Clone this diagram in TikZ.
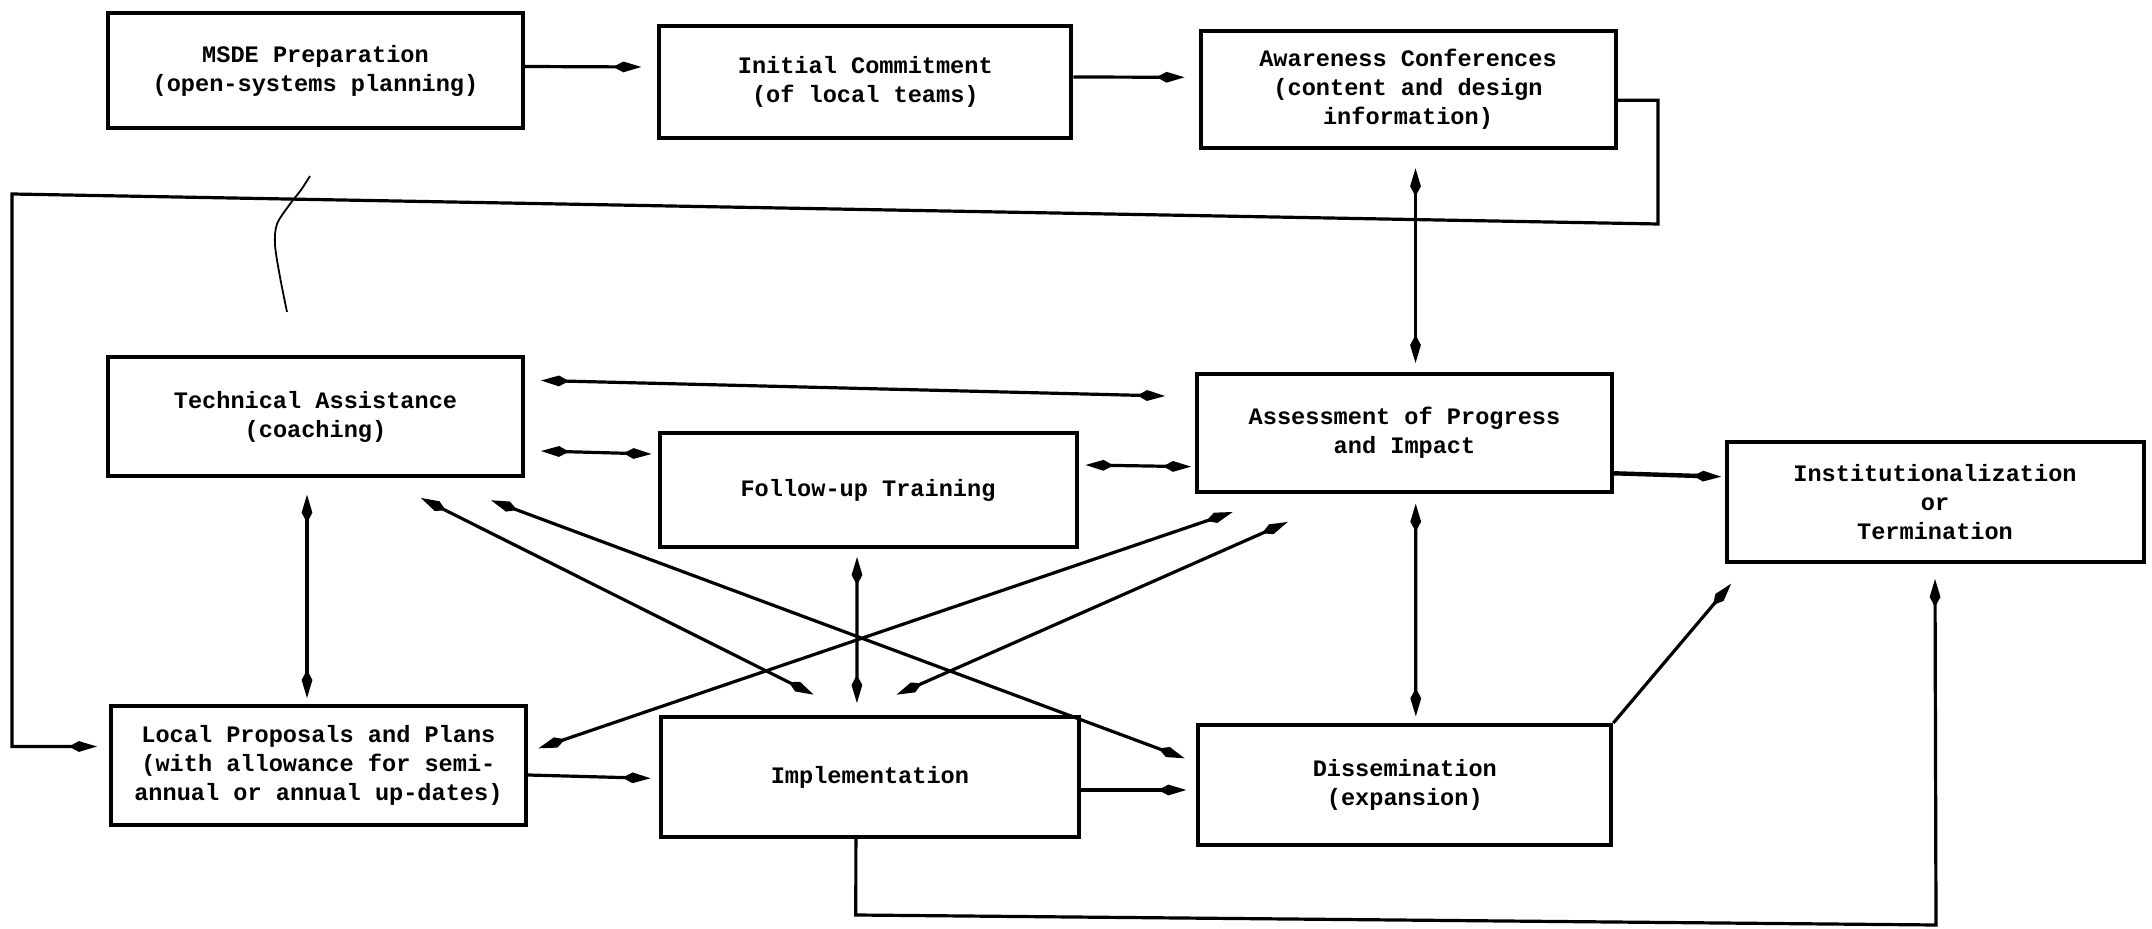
\documentclass[tikz,border=0pt]{standalone}
\usepackage{fontspec}
\newfontfamily\twfont{Liberation Mono}
\usetikzlibrary{arrows.meta,calc}
\newcommand\boxfont{\twfont\bfseries\fontsize{11.8}{14.5}\selectfont}
\tikzset{
  box/.style={draw, line width=2pt, minimum width=207.5pt, minimum height=59pt,
    inner sep=0pt, align=center, font=\boxfont},
  kt/.tip={Kite[length=14pt,width=5.4pt,inset=5pt]},
  conn/.style={line width=1.6pt},
  ar/.style={conn,-kt},
  dar/.style={conn,kt-kt},
  squig/.style={line width=0.9pt}
}
\begin{document}
\begin{tikzpicture}[x=0.5pt,y=-0.5pt]
\path[use as bounding box] (0,0) rectangle (2152,929);

% boxes
\node[box, minimum height=57.5pt] (msde) at (315.5,70.5) {MSDE Preparation\\(open-systems planning)};
\node[box, minimum width=206pt, minimum height=56pt] (init) at (865.3,82) {Initial Commitment\\(of local teams)};
\node[box, minimum height=58.5pt] (aware) at (1408,89.3) {Awareness Conferences\\(content and design\\information)};
\node[box, minimum height=59.5pt] (tech) at (315.5,416.5) {Technical Assistance\\(coaching)};
\node[box, minimum width=208.5pt, minimum height=57pt] (follow) at (868,490) {Follow-up Training};
\node[box, minimum height=59pt] (assess) at (1404.5,433) {Assessment of Progress\\and Impact};
\node[box, minimum width=208.5pt, minimum height=60pt] (inst) at (1935,502) {Institutionalization\\or\\Termination};
\node[box, minimum height=59.5pt] (local) at (318.4,765.5) {Local Proposals and Plans\\(with allowance for semi-\\annual or annual up-dates)};
\node[box, minimum width=209pt, minimum height=60pt] (impl) at (869.9,777) {Implementation};
\node[box, minimum width=206.5pt, minimum height=60pt] (diss) at (1404.8,785) {Dissemination\\(expansion)};

% top row
\draw[ar] ($(msde.east)+(0,-4)$) -- ($(init.west)+(-16,-15)$);
\draw[ar] ($(init.east)+(0,-5)$) -- ($(aware.west)+(-14,-12)$);

% feedback loop from awareness to local proposals
\coordinate (fb1) at (1658,224);
\coordinate (fb2) at (12,194);
\draw[ar] ($(aware.east)+(0,11)$) -| (fb1) -- (fb2) |- ($(local.west)+(-12,-19)$);

% awareness <-> assessment
\draw[dar] ($(aware.south)+(7.5,18.5)$) -- ($(assess.north)+(11,-9)$);

% technical assistance links
\draw[dar] ($(tech.east)+(16,-36)$) -- ($(assess.west)+(-30,-37)$);
\draw[dar] ($(tech.east)+(16,34.5)$) -- ($(follow.west)+(-6,-36)$);
\draw[dar] ($(follow.east)+(7,-25)$) -- ($(assess.west)+(-4,33.7)$);
\draw[ar, line width=2.2pt] ($(assess.east)+(0,40.3)$) -- ($(inst.west)+(-3.4,-25.3)$);

% verticals
\draw[dar] ($(tech.south)+(-8.5,16.7)$) -- ($(local.north)+(-11.4,-6)$);
\draw[dar] ($(follow.south)+(-11,8)$) -- ($(impl.north)+(-13,-12)$);
\draw[dar] ($(assess.south)+(11.2,9.7)$) -- ($(diss.north)+(11,-6.7)$);

% diagonals
\draw[dar] ($(tech.south)+(105.4,20)$) -- ($(impl.north)+(-56.2,-20.3)$);
\draw[dar] ($(tech.south)+(175.5,22.3)$) -- ($(diss.west)+(-11.6,-26.7)$);
\draw[dar] ($(local.east)+(10.7,-17.2)$) -- ($(assess.south)+(-171.8,18)$);
\draw[dar] ($(impl.north)+(26.6,-20.3)$) -- ($(assess.south)+(-116.8,28)$);

% bottom row
\draw[ar] ($(local.east)+(0,9.5)$) -- ($(impl.west)+(-8.4,1.3)$);
\draw[ar] ($(impl.east)+(0,13)$) -- ($(diss.west)+(-10,5)$);
\draw[ar] (diss.north east) -- ($(inst.south west)+(6.6,19.7)$);

% implementation to institutionalization
\coordinate (b1) at (855.8,915);
\coordinate (b2) at (1936,925);
\draw[ar] ($(impl.south)+(-14,0)$) -- (b1) -- (b2) -- ($(inst.south)+(0,15)$);

% pen mark
\draw[squig] plot[smooth] coordinates {(310,176) (301,190) (290,204) (277,224) (275,245) (280,277) (287,312)};
\end{tikzpicture}
\end{document}
